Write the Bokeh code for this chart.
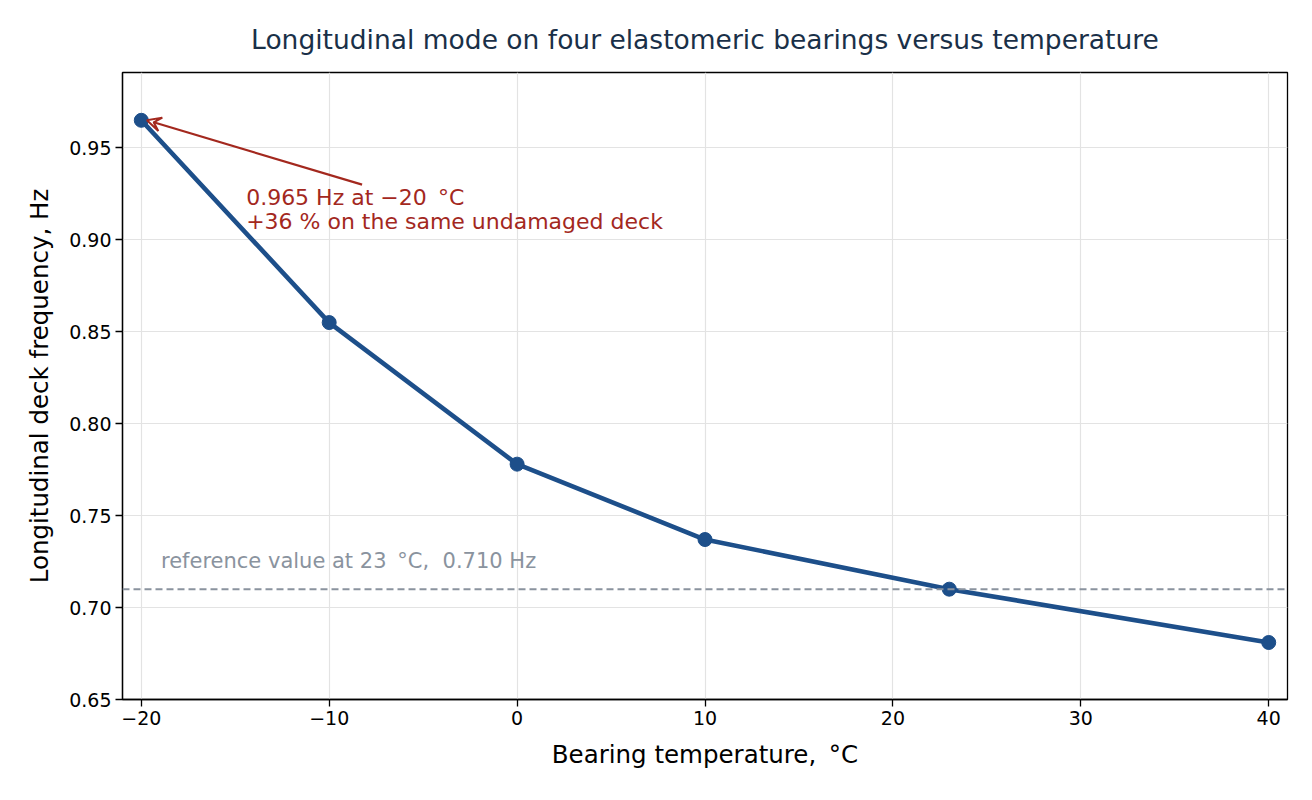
from bokeh.plotting import figure
from bokeh.models import Range1d, FixedTicker, Span, Label, Arrow, VeeHead, ColumnDataSource
from bokeh.embed import file_html
from bokeh.resources import INLINE

temps = [-20, -10, 0, 10, 23, 40]
freqs = [0.965, 0.855, 0.778, 0.737, 0.710, 0.681]
x_ticks = [-20, -10, 0, 10, 20, 30, 40]
y_ticks = [0.65, 0.70, 0.75, 0.80, 0.85, 0.90, 0.95]
ref_temp = 23
ref_freq = 0.710

FONT = "DejaVu Sans"
src = ColumnDataSource(dict(x=temps, y=freqs))

p = figure(width=1296, height=784, output_backend="svg", toolbar_location=None,
           x_range=Range1d(-21, 41), y_range=Range1d(0.65, 0.991),
           frame_width=1165, frame_height=627,
           min_border_left=122, min_border_right=9, min_border_top=72, min_border_bottom=85)

p.title.text = "Longitudinal mode on four elastomeric bearings versus temperature"
p.title.align = "center"
p.title.text_font = FONT
p.title.text_font_size = "26.5px"
p.title.text_font_style = "normal"
p.title.text_color = "#1a3048"
p.title.standoff = 35

p.xaxis.ticker = FixedTicker(ticks=x_ticks)
p.yaxis.ticker = FixedTicker(ticks=y_ticks)
p.xaxis.major_label_overrides = {t: (str(t).replace("-", "\u2212")) for t in x_ticks}
p.yaxis.major_label_overrides = {t: f"{t:.2f}" for t in y_ticks}
p.xaxis.axis_label = "Bearing temperature, \u2009\u00b0C"
p.yaxis.axis_label = "Longitudinal deck frequency, Hz"
for ax in (p.xaxis, p.yaxis):
    ax.axis_label_text_font = FONT
    ax.axis_label_text_font_size = "24.5px"
    ax.axis_label_text_font_style = "normal"
    ax.axis_label_text_color = "black"
    ax.major_label_text_font = FONT
    ax.major_label_text_font_size = "19px"
    ax.major_label_text_color = "black"
    ax.minor_tick_line_color = None
    ax.major_tick_out = 7
    ax.major_tick_in = 0
    ax.major_tick_line_width = 1.3
    ax.axis_line_color = "black"
    ax.axis_line_width = 1.3
    ax.major_tick_line_color = "black"
    ax.major_label_standoff = 4
p.xaxis.axis_label_standoff = 12
p.yaxis.axis_label_standoff = 12

p.outline_line_color = "black"
p.outline_line_width = 1.3
p.grid.grid_line_color = "#e3e3e3"
p.grid.grid_line_width = 1.2
p.background_fill_color = "white"
p.border_fill_color = "white"

p.add_layout(Span(location=ref_freq, dimension="width", line_color="#8a939e",
                  line_dash="7 4", line_width=2))

p.line("x", "y", source=src, line_color="#1d4f8a", line_width=4.6)
p.scatter("x", "y", source=src, size=14, fill_color="#1d4f8a", line_color="#1d4f8a")

p.add_layout(Label(x=-18.95, y=0.7252,
                   text=f"reference value at {ref_temp} \u2009\u00b0C,\u00a0 {ref_freq:.3f} Hz",
                   text_baseline="alphabetic",
                   text_font=FONT, text_font_size="21px", text_color="#8a939e"))

p.add_layout(Arrow(end=VeeHead(size=14, line_color="#a3281e", line_width=2, fill_color=None),
                   x_start=-8.25, y_start=0.930, x_end=temps[0] + 0.3, y_end=freqs[0],
                   line_color="#a3281e", line_width=2.2))
p.add_layout(Label(x=-14.42, y=0.9229, text=f"{freqs[0]:.3f} Hz at \u221220 \u2009\u00b0C",
                   text_baseline="alphabetic",
                   text_font=FONT, text_font_size="22px", text_color="#a3281e"))
p.add_layout(Label(x=-14.42, y=0.9097, text="+36 % on the same undamaged deck",
                   text_baseline="alphabetic",
                   text_font=FONT, text_font_size="22px", text_color="#a3281e"))

open("out.html", "w").write(file_html(p, INLINE))
